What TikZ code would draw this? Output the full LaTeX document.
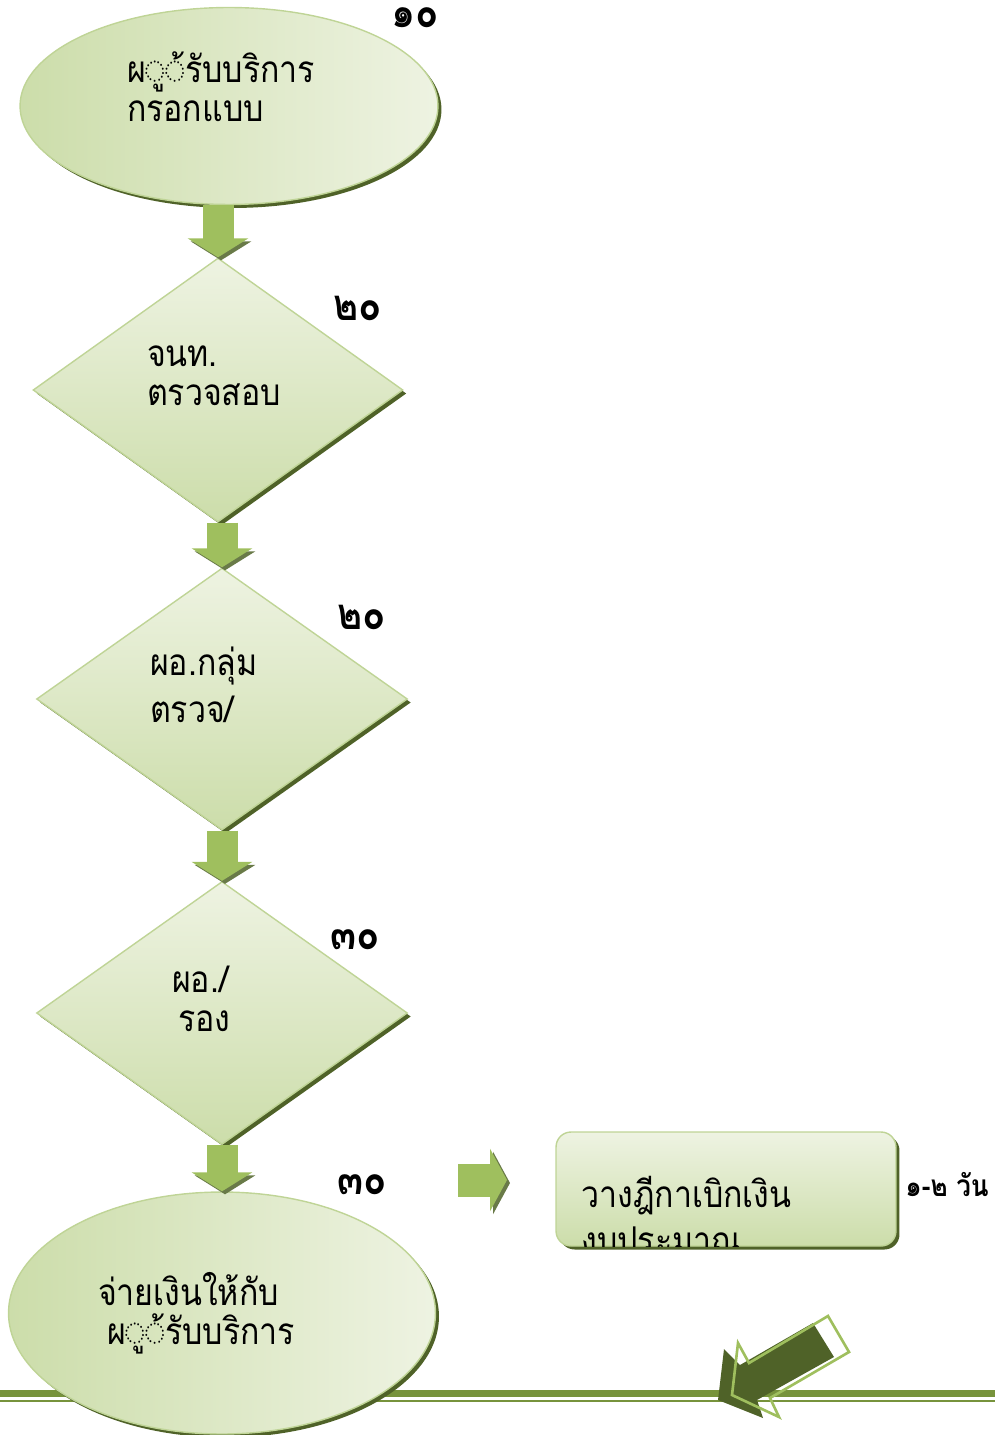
\documentclass[tikz,border=0pt]{standalone}
\usepackage{fontspec}
\setmainfont[Script=Thai, FakeStretch=0.87]{Loma}
\usetikzlibrary{shapes.geometric,arrows.meta,shadows}
\definecolor{palegreen}{HTML}{EEF3E2}
\definecolor{midgreen}{HTML}{CCDDAA}
\definecolor{edgegreen}{HTML}{BFD496}
\definecolor{shadegreen}{HTML}{4F6228}
\definecolor{arrowgreen}{HTML}{9FBF5E}
\definecolor{bandgreen}{HTML}{77933C}

\begin{document}
\begin{tikzpicture}[x=0.02cm, y=-0.02cm,
    shapebox/.style={draw=edgegreen, line width=0.8pt, align=left, inner sep=0pt, font=\fontsize{21}{22}\selectfont, top color=palegreen, bottom color=midgreen, drop shadow={shadow xshift=0.07cm, shadow yshift=-0.07cm, fill=shadegreen, opacity=1}},
    ovalbox/.style={shapebox, ellipse, left color=midgreen, right color=palegreen},
    checkbox/.style={shapebox, diamond},
    daylabel/.style={font=\bfseries\fontsize{25}{27}\selectfont},
    flowarrow/.style={line width=0.62cm, arrowgreen, -{Triangle[length=0.38cm, width=1.2cm]}, preaction={draw=shadegreen!85, fill=shadegreen!85, transform canvas={shift={(0.06cm,-0.06cm)}}}}]
    \useasboundingbox (0,0) rectangle (995,1435);

    % bottom band
    \draw[bandgreen, line width=0.14cm] (0,1393) -- (995,1393);
    \draw[bandgreen, line width=0.04cm] (0,1400.5) -- (995,1400.5);

    % flow shapes
    \node[ovalbox, text width=4.08cm, minimum width=8.36cm, minimum height=3.94cm] (apply) at (229,106) {ผ◌ู◌้รับบริการ\\กรอกแบบ\\~};
    \node[checkbox, text width=2.84cm, minimum width=7.4cm, minimum height=5.28cm] (check) at (218,390) {จนท.\\ตรวจสอบ\\[-0.2cm]~};
    \node[checkbox, text width=2.88cm, minimum width=7.42cm, minimum height=5.24cm] (group) at (222,699) {ผอ.กลุ่ม\\[0.16cm]ตรวจ/\\[-0.2cm]~};
    \node[checkbox, text width=2cm, minimum width=7.42cm, minimum height=5.26cm] (director) at (222,1013) {ผอ./\\\hspace*{0.12cm}รอง\\[-0.2cm]~};
    \node[ovalbox, text width=4.96cm, minimum width=8.54cm, minimum height=4.84cm] (pay) at (222,1313) {จ่ายเงินให้กับ\\\hspace*{0.18cm}ผ◌ู◌้รับบริการ};
    \node[shapebox, rectangle, rounded corners=0.3cm, minimum width=6.8cm, minimum height=2.28cm] (bill) at (726,1189) {};
    \begin{scope}
        \clip (bill.south west) rectangle (bill.north east);
        \node[anchor=north west, align=left, inner sep=0pt, font=\fontsize{21}{22}\selectfont] (billtext) at (581,1176) {วางฎีกาเบิกเงิน\\[0.14cm]งบประมาณ};
    \end{scope}

    % time labels
    \node[daylabel] (time1) at (415,18) {๑๐};
    \node[daylabel] (time2) at (358,308) {๒๐};
    \node[daylabel] (time3) at (362,617) {๒๐};
    \node[daylabel] (time4) at (355,940) {๓๐};
    \node[daylabel] (time5) at (362,1185) {๓๐};
    \node[daylabel, font=\bfseries\fontsize{17}{19}\selectfont, anchor=west, inner sep=0pt] (time6) at (905,1185) {๑-๒ วัน};

    % block arrows
    \draw[flowarrow] (check.north |- apply.south) -- (check.north);
    \draw[flowarrow] (group.north |- check.south) -- (group.north);
    \draw[flowarrow] (group.south) -- (director.north);
    \draw[flowarrow] (director.south) -- (pay.north);
    \coordinate (sendfrom) at (458,1180);
    \coordinate (sendto) at (507,1180);
    \draw[flowarrow, line width=0.66cm, -{Triangle[length=0.34cm, width=1.24cm]}] (sendfrom) -- (sendto);

    % corner arrow
    \fill[shadegreen] (813,1323) -- (834,1357) -- (757,1400) -- (763,1418) -- (718,1400) -- (724,1349) -- (740,1365) -- cycle;
    \draw[arrowgreen, line width=1.5pt] (828,1316) -- (849,1352) -- (770,1398) -- (779,1417) -- (732,1395) -- (738,1343) -- (749,1363) -- cycle;
\end{tikzpicture}
\end{document}
